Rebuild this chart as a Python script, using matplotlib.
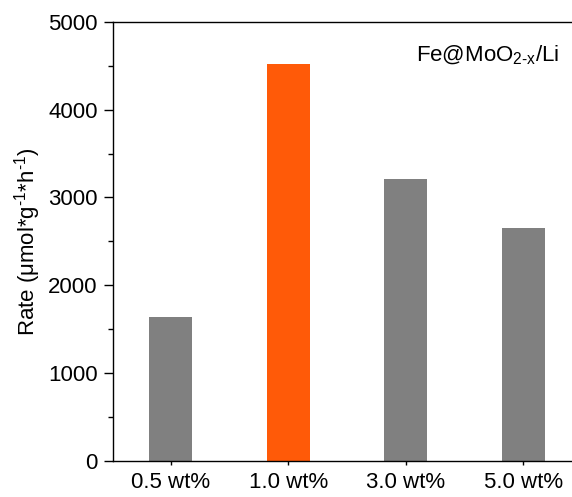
import matplotlib.pyplot as plt
from matplotlib.ticker import MultipleLocator

plt.rcParams['font.family'] = ['Liberation Sans', 'DejaVu Sans']
plt.rcParams['mathtext.fontset'] = 'custom'
plt.rcParams['mathtext.rm'] = 'Liberation Sans'
plt.rcParams['mathtext.it'] = 'Liberation Sans:italic'

loadings = ['0.5 wt%', '1.0 wt%', '3.0 wt%', '5.0 wt%']
rates = [1635, 4516, 3216, 2654]
colors = ['#808080', '#FF5A08', '#808080', '#808080']

fig = plt.figure(figsize=(5.72, 4.97), dpi=100)
ax = fig.add_axes([0.1976, 0.073, 0.818, 0.8827])

ax.bar(range(len(loadings)), rates, width=0.365, color=colors)

ax.set_xlim(-0.49, 3.49)
ax.set_ylim(0, 5000)
ax.set_xticks(range(len(loadings)))
ax.set_xticklabels(loadings)
ax.yaxis.set_major_locator(MultipleLocator(1000))
ax.yaxis.set_minor_locator(MultipleLocator(500))

ax.tick_params(axis='both', labelsize=16, width=1, direction='out')
ax.tick_params(axis='y', which='major', length=6.5, pad=4.5)
ax.tick_params(axis='y', which='minor', length=3.4, width=1)
ax.tick_params(axis='x', which='major', length=3, pad=5)
for s in ax.spines.values():
    s.set_linewidth(1)

ax.set_ylabel(r'Rate ($\mathregular{\mu}$mol*g$^{\mathregular{\text{-}1}}$*h$^{\mathregular{\text{-}1}}$)',
              fontsize=16, labelpad=4)
ax.text(0.647, 0.911, r'Fe@MoO$_{\mathregular{2\text{-}x}}$/Li', transform=ax.transAxes,
        fontsize=16, ha='left', va='baseline')

fig.savefig('out.png', dpi=100)
